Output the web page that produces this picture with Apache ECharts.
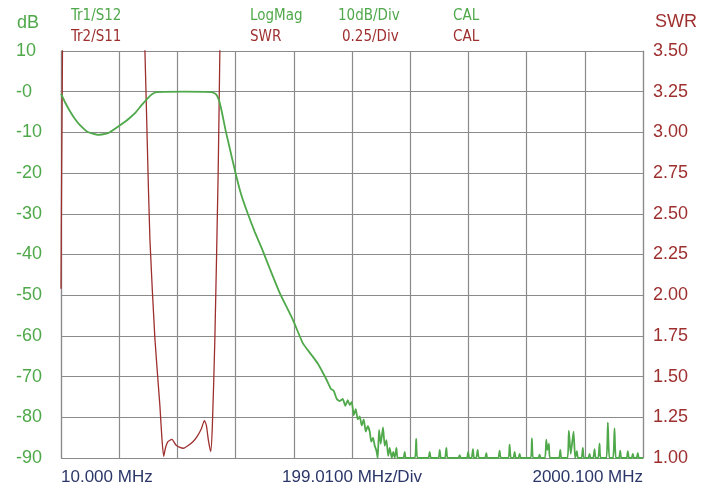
<!DOCTYPE html>
<html>
<head>
<meta charset="utf-8">
<script src="https://cdn.jsdelivr.net/npm/echarts@6/dist/echarts.min.js"></script>
<style>
html,body{margin:0;padding:0;background:#fff;}
#chart{width:712px;height:490px;}
</style>
</head>
<body>
<div id="chart"></div>
<script>
// ---- data ----
// Frequency axis: 10.000 MHz start, 199.01 MHz/Div, 2000.100 MHz stop
const freqStart = 10.0;
const freqStop = 2000.1;
const xDivLabels = ['10.000 MHz', '199.0100 MHz/Div', '2000.100 MHz'];
const dbTickLabels = ['10', '-0', '-10', '-20', '-30', '-40', '-50', '-60', '-70', '-80', '-90'];

// Trace 1: S12 LogMag (dB)
const s12Freq = [
  10, 23.7, 40.7, 57.8, 74.9, 102.2, 136.4, 170.6, 204.7, 228.7, 245.7, 266.2, 283.3, 303.8, 320.9, 338,
  433.6, 525.9, 539.6, 549.8, 560.1, 573.7, 587.4, 604.5, 625, 648.9, 672.8, 696.7, 724.1, 758.2,
  802.6, 836.8, 853.9, 871, 888, 905.1, 918.8, 932.5, 942.7, 953, 963.2, 973.5, 982, 990.5, 997.4,
  1004.2, 1011, 1017.8, 1024.7, 1031.5, 1038.3, 1045.2, 1052, 1058.9, 1065.7, 1070.8, 1077, 1082.8,
  1088.6, 1093, 1097.5, 1103.3, 1111.1, 1116.9, 1122.7, 1128.9, 1134, 1140.9, 1146, 1151,
  1156.9, 1161, 1181, 1185.3, 1189, 1220, 1224.6, 1229, 1266, 1270.7, 1275, 1301, 1304.9, 1309,
  1323, 1327.7, 1332, 1369, 1373.2, 1377, 1398, 1402.2, 1406, 1414, 1418.6, 1422, 1430, 1434.7, 1439,
  1460, 1464.4, 1468, 1505, 1509.8, 1514, 1540, 1544, 1548, 1557, 1561.1, 1565, 1574, 1578.2, 1582,
  1616, 1620.2, 1624, 1642, 1646.5, 1650, 1665, 1669.4, 1673, 1678.3, 1682, 1713, 1717.2, 1721,
  1742, 1746.6, 1753, 1762.7, 1768, 1773.9, 1778, 1790, 1794.4, 1798, 1813, 1817.3, 1821,
  1830, 1834.4, 1838, 1847, 1851.5, 1855, 1875, 1879.9, 1885, 1898, 1902.7, 1907, 1918, 1922.2, 1926,
  1944, 1948.2, 1952, 1961, 1965.3, 1969, 1978, 1982.4, 1986, 2000.1
];
const s12Db = [
  -0.5, -2.6, -4.8, -6.7, -8.2, -9.9, -10.6, -10.2, -8.6, -7.4, -6.4, -5.0, -3.5, -1.8, -0.6, -0.1,
  0.0, -0.1, -0.6, -2.0, -5.0, -9.8, -14.0, -19.3, -25.0, -30.0, -34.5, -38.5, -43.5, -49.5,
  -56.0, -61.8, -63.5, -65.1, -66.8, -69.0, -70.9, -73.0, -73.5, -75.5, -76.0, -75.5, -77.2, -75.8, -77.0,
  -76.2, -79.5, -78.0, -80.5, -79.8, -82.0, -80.5, -83.5, -82.2, -83.5, -86.0, -85.0, -87.0,
  -88.2, -90.0, -83.1, -86.5, -82.5, -87.0, -85.6, -89.5, -87.5, -90.0, -88.5, -90.0,
  -87.5, -90.0, -90.0, -88.5, -90.0, -90.0, -85.3, -90.0, -90.0, -88.5, -90.0, -90.0, -88.0, -90.0,
  -90.0, -87.5, -90.0, -90.0, -89.3, -90.0, -90.0, -88.5, -90.0, -90.0, -87.8, -90.0, -90.0, -88.0, -90.0,
  -90.0, -88.8, -90.0, -90.0, -88.2, -90.0, -90.0, -86.7, -90.0, -90.0, -88.5, -90.0, -90.0, -89.0, -90.0,
  -90.0, -85.2, -90.0, -90.0, -89.2, -90.0, -90.0, -85.5, -88.0, -86.5, -90.0, -90.0, -88.0, -90.0,
  -90.0, -83.3, -89.0, -83.5, -90.0, -88.3, -90.0, -90.0, -87.5, -90.0, -90.0, -89.0, -90.0,
  -90.0, -87.8, -90.0, -90.0, -86.5, -90.0, -90.0, -81.3, -90.0, -90.0, -82.7, -90.0, -90.0, -88.2, -90.0,
  -90.0, -88.3, -90.0, -90.0, -89.0, -90.0, -90.0, -88.8, -90.0, -90.0
];

// Trace 2: S11 SWR (values above 3.50 run off the top of the screen)
const s11Freq = [
  10, 12.0, 14.4, 17.5, 74.9, 177.4, 279.9, 297, 305.5, 314.1, 331.2, 348.2, 355.1, 361.2, 367,
  375.6, 389.3, 402.9, 416.6, 428.5, 443.9, 461, 474.6, 490, 500.3, 507.1, 513.9, 521.8, 527.6,
  536.1, 547.4, 553.2, 558.3
];
const s11Swr = [
  2.04, 2.7, 3.3, 4.0, 7.5, 9.0, 4.5, 3.5, 2.9, 2.34, 1.73, 1.32, 1.12, 1.01, 1.06,
  1.10, 1.115, 1.08, 1.065, 1.06, 1.075, 1.10, 1.13, 1.18, 1.23, 1.20, 1.11, 1.04, 1.20,
  1.73, 2.75, 3.5, 4.1
];

// Annotation texts
const headerTr1 = ['Tr1/S12', 'LogMag', '10dB/Div', 'CAL'];
const headerTr2 = ['Tr2/S11', 'SWR', '0.25/Div', 'CAL'];

// ---- styles ----
const GREEN = '#4fa84a';
const RED = '#9e2f2f';
const NAVY = '#2b3768';
const GRID = '#8a8a8a';
const headFont = '"DejaVu Sans Condensed", "Liberation Sans Narrow", sans-serif';
const numFont = '"Liberation Sans", Arial, sans-serif';

const chart = echarts.init(document.getElementById('chart'), null, {renderer: 'canvas'});

const headerX = [71, 250, 338, 453];
const graphics = [];
headerTr1.forEach((t, i) => graphics.push({type: 'text', left: headerX[i], top: 9,
  style: {text: t, fill: GREEN, font: '15px ' + headFont}}));
headerTr2.forEach((t, i) => graphics.push({type: 'text', left: headerX[i] + (i === 2 ? 4 : 0), top: 30,
  style: {text: t, fill: RED, font: '15px ' + headFont}}));
graphics.push({type: 'text', left: 17, top: 14, style: {text: 'dB', fill: GREEN, font: '18px ' + numFont}});
graphics.push({type: 'text', left: 655, top: 13, style: {text: 'SWR', fill: RED, font: '18px ' + numFont}});

const option = {
  backgroundColor: '#ffffff',
  animation: false,
  graphic: graphics,
  grid: {left: 61, right: 69, top: 51, bottom: 32, containLabel: false},
  xAxis: [
    {
      type: 'value', min: 0, max: 10, interval: 1, position: 'bottom',
      axisLine: {show: true, lineStyle: {color: GRID, width: 1.2}},
      axisTick: {show: false},
      splitLine: {show: true, lineStyle: {color: GRID, width: 1.2}},
      axisLabel: {
        show: true, margin: 11, color: NAVY, fontSize: 17, fontFamily: numFont,
        alignMinLabel: 'left', alignMaxLabel: 'right',
        formatter: v => v === 0 ? xDivLabels[0] : (v === 5 ? xDivLabels[1] : (v === 10 ? xDivLabels[2] : ''))
      }
    },
    {
      type: 'value', min: freqStart, max: freqStop, position: 'top', show: false,
      splitLine: {show: false}
    }
  ],
  yAxis: [
    {
      type: 'value', min: -90, max: 10, interval: 10, position: 'left',
      axisLine: {show: true, lineStyle: {color: GRID, width: 1.2}},
      axisTick: {show: false},
      splitLine: {show: true, lineStyle: {color: GRID, width: 1.2}},
      axisLabel: {
        margin: 45, align: 'left', color: GREEN, fontSize: 18, fontFamily: numFont,
        formatter: v => dbTickLabels[Math.round((10 - v) / 10)]
      }
    },
    {
      type: 'value', min: 1, max: 3.5, interval: 0.25, position: 'right',
      axisLine: {show: true, lineStyle: {color: GRID, width: 1.2}},
      axisTick: {show: false},
      splitLine: {show: false},
      axisLabel: {
        margin: 10, align: 'left', color: RED, fontSize: 18, fontFamily: numFont,
        formatter: v => v.toFixed(2)
      }
    }
  ],
  series: [
    {
      name: 'Tr2/S11', type: 'line', xAxisIndex: 1, yAxisIndex: 1, clip: true,
      data: s11Freq.map((f, i) => [f, s11Swr[i]]),
      showSymbol: false, smooth: 0.2,
      lineStyle: {color: RED, width: 1.3}, z: 3
    },
    {
      name: 'Tr1/S12', type: 'line', xAxisIndex: 1, yAxisIndex: 0, clip: true,
      data: s12Freq.map((f, i) => [f, s12Db[i]]),
      showSymbol: false, smooth: 0.15,
      lineStyle: {color: GREEN, width: 1.8}, z: 4
    }
  ]
};
chart.setOption(option);
</script>
</body>
</html>
